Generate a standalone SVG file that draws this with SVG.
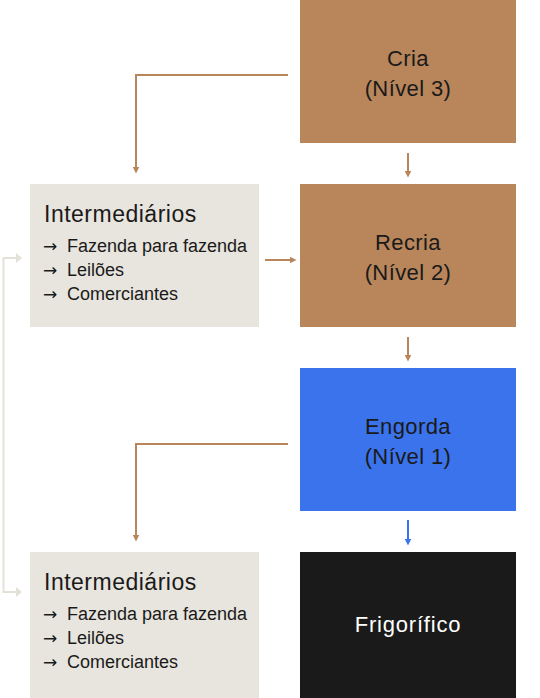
<svg xmlns="http://www.w3.org/2000/svg" width="540" height="698" viewBox="0 0 540 698">
<defs>
<style>
.t{font-family:"Liberation Sans",Arial,sans-serif;fill:#1a1a1a}
.c{text-anchor:middle;font-size:22px;letter-spacing:0.4px}
.h{font-size:23px;letter-spacing:0.5px}
.i{font-size:18px}
.ar{font-family:"DejaVu Sans",sans-serif;font-size:17px;fill:#1a1a1a}
.br{fill:#b8865a}
.be{fill:#e8e5de}
.lb{stroke:#b8865a;stroke-width:2;fill:none}
.lg{stroke:#e4e1d9;stroke-width:2;fill:none}
.lbl{stroke:#3b73ec;stroke-width:2;fill:none}
</style>
<marker id="ab" viewBox="0 0 10 10" refX="5" refY="5" markerWidth="7" markerHeight="7" orient="auto" markerUnits="userSpaceOnUse"><path d="M0,0 L10,5 L0,10 z" fill="#b8865a"/></marker>
<marker id="ab2" viewBox="0 0 10 10" refX="5" refY="5" markerWidth="7" markerHeight="7" orient="auto" markerUnits="userSpaceOnUse"><path d="M0,0 L10,5 L0,10 z" fill="#3b73ec"/></marker>
</defs>
<g id="connectors">
<path class="lb" d="M288,75 H136 V170" marker-end="url(#ab)"/>
<path class="lb" d="M408,153 V174" marker-end="url(#ab)"/>
<path class="lb" d="M265,260 H293" marker-end="url(#ab)"/>
<path class="lb" d="M408,337 V358" marker-end="url(#ab)"/>
<path class="lb" d="M288,444 H136 V538" marker-end="url(#ab)"/>
<path class="lbl" d="M408,520 V542" marker-end="url(#ab2)"/>
<path class="lg" d="M18,258 H3.5 V592 H18"/>
<path d="M16,253 L22,258 L16,263 z" fill="#e4e1d9"/>
<path d="M16,587 L22,592 L16,597 z" fill="#e4e1d9"/>
</g>
<g id="cria">
<rect class="br" x="300" y="0" width="216" height="143"/>
<text class="t c" x="408" y="66">Cria</text>
<text class="t c" x="408" y="96">(Nível 3)</text>
</g>
<g id="recria">
<rect class="br" x="300" y="184" width="216" height="143"/>
<text class="t c" x="408" y="250">Recria</text>
<text class="t c" x="408" y="280">(Nível 2)</text>
</g>
<g id="engorda">
<rect fill="#3b73ec" x="300" y="368" width="216" height="143"/>
<text class="t c" x="408" y="434">Engorda</text>
<text class="t c" x="408" y="464">(Nível 1)</text>
</g>
<g id="frigorifico">
<rect fill="#1a1a1a" x="300" y="552" width="216" height="146"/>
<text class="t c" x="408" y="632" style="fill:#fff;letter-spacing:0.8px">Frigorífico</text>
</g>
<g id="intermediarios1">
<rect class="be" x="30" y="184" width="229" height="143"/>
<text class="t h" x="44" y="222">Intermediários</text>
<text class="ar" x="43" y="252">→</text>
<text class="t i" x="67" y="252">Fazenda para fazenda</text>
<text class="ar" x="43" y="276">→</text>
<text class="t i" x="67" y="276">Leilões</text>
<text class="ar" x="43" y="300">→</text>
<text class="t i" x="67" y="300">Comerciantes</text>
</g>
<g id="intermediarios2">
<rect class="be" x="30" y="552" width="229" height="146"/>
<text class="t h" x="44" y="590">Intermediários</text>
<text class="ar" x="43" y="620">→</text>
<text class="t i" x="67" y="620">Fazenda para fazenda</text>
<text class="ar" x="43" y="644">→</text>
<text class="t i" x="67" y="644">Leilões</text>
<text class="ar" x="43" y="668">→</text>
<text class="t i" x="67" y="668">Comerciantes</text>
</g>
</svg>
